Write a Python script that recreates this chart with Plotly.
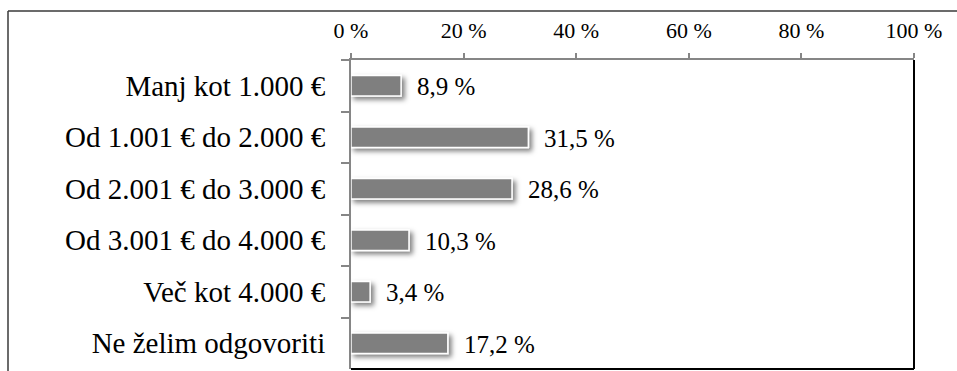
import plotly.graph_objects as go

# Monthly household income brackets and share of respondents (%)
categories = [
    "Manj kot 1.000 €",
    "Od 1.001 € do 2.000 €",
    "Od 2.001 € do 3.000 €",
    "Od 3.001 € do 4.000 €",
    "Več kot 4.000 €",
    "Ne želim odgovoriti",
]
shares = [8.9, 31.5, 28.6, 10.3, 3.4, 17.2]
tick_values = [0, 20, 40, 60, 80, 100]
tick_labels = ["0 %", "20 %", "40 %", "60 %", "80 %", "100 %"]

W, H = 957, 371
ML, MR, MT, MB = 351, 43, 60, 2
FONT = "Liberation Serif"


def px_x(px):
    return (px - ML) / (W - ML - MR)


def px_y(py):
    return 1 - (py - MT) / (H - MT - MB)


def fmt(v):
    return f"{v:.1f}".replace(".", ",") + " %"


fig = go.Figure(
    go.Bar(
        x=shares,
        y=categories,
        orientation="h",
        width=0.4,
        marker=dict(color="#7f7f7f", line=dict(color="#ffffff", width=1.5)),
        hoverinfo="skip",
    )
)

for v, c in zip(shares, categories):
    fig.add_annotation(
        x=v, y=c, text=fmt(v), showarrow=False,
        xanchor="left", xshift=14, yshift=-1,
        font=dict(family=FONT, size=25, color="#000000"),
    )

# outer chart frame (open to the right and bottom)
frame = dict(type="line", xref="paper", yref="paper",
             line=dict(color="#3a3a3a", width=1.5), layer="above")
fig.add_shape(**frame, x0=px_x(8), x1=px_x(W + 10), y0=px_y(11), y1=px_y(11))
fig.add_shape(**frame, x0=px_x(8), x1=px_x(8), y0=px_y(11), y1=px_y(H + 10))

# plot-area border on the right and bottom
border = dict(type="line", xref="paper", yref="paper",
              line=dict(color="#000000", width=2), layer="above")
fig.add_shape(**border, x0=1, x1=1, y0=0, y1=1)
fig.add_shape(**border, x0=0, x1=1, y0=0, y1=0)

fig.update_layout(
    width=W, height=H,
    margin=dict(l=ML, r=MR, t=MT, b=MB, pad=0),
    paper_bgcolor="#ffffff", plot_bgcolor="#ffffff",
    showlegend=False,
    separators=", ",
    font=dict(family=FONT, color="#000000"),
    xaxis=dict(
        side="top", range=[0, 100], tickmode="array",
        tickvals=tick_values, ticktext=tick_labels,
        showgrid=False, zeroline=False,
        showline=True, linecolor="#868686", linewidth=2,
        ticks="outside", ticklen=5, tickcolor="#868686", tickwidth=1.5,
        tickfont=dict(family=FONT, size=22, color="#000000"),
        ticklabelstandoff=6,
        fixedrange=True,
    ),
    yaxis=dict(
        autorange="reversed", type="category",
        showgrid=False, zeroline=False,
        showline=True, linecolor="#868686", linewidth=2,
        ticks="outside", ticklen=8, tickcolor="#868686", tickwidth=1.5,
        tickson="boundaries",
        tickfont=dict(family=FONT, size=29, color="#000000"),
        ticklabelstandoff=18,
        fixedrange=True,
    ),
)

# soft drop shadow beneath the bars
shadow_js = """
(function(){
  var gd = document.getElementById('{plot_id}');
  function apply(){
    var svg = gd.querySelector('svg.main-svg');
    if (!svg) return;
    var defs = svg.querySelector('defs');
    if (!defs.querySelector('#barshadow')) {
      var ns = 'http://www.w3.org/2000/svg';
      var f = document.createElementNS(ns, 'filter');
      f.setAttribute('id', 'barshadow');
      f.setAttribute('x', '-50%'); f.setAttribute('y', '-50%');
      f.setAttribute('width', '200%'); f.setAttribute('height', '200%');
      var d = document.createElementNS(ns, 'feDropShadow');
      d.setAttribute('dx', '3'); d.setAttribute('dy', '3');
      d.setAttribute('stdDeviation', '2.5');
      d.setAttribute('flood-color', '#000');
      d.setAttribute('flood-opacity', '0.5');
      f.appendChild(d); defs.appendChild(f);
    }
    gd.querySelectorAll('.barlayer .point path').forEach(function(p){
      p.setAttribute('filter', 'url(#barshadow)');
    });
  }
  apply();
  if (gd.on) gd.on('plotly_afterplot', apply);
  setTimeout(apply, 50);
})();
"""

fig.write_html("out.html", post_script=shadow_js, config={"displayModeBar": False})
